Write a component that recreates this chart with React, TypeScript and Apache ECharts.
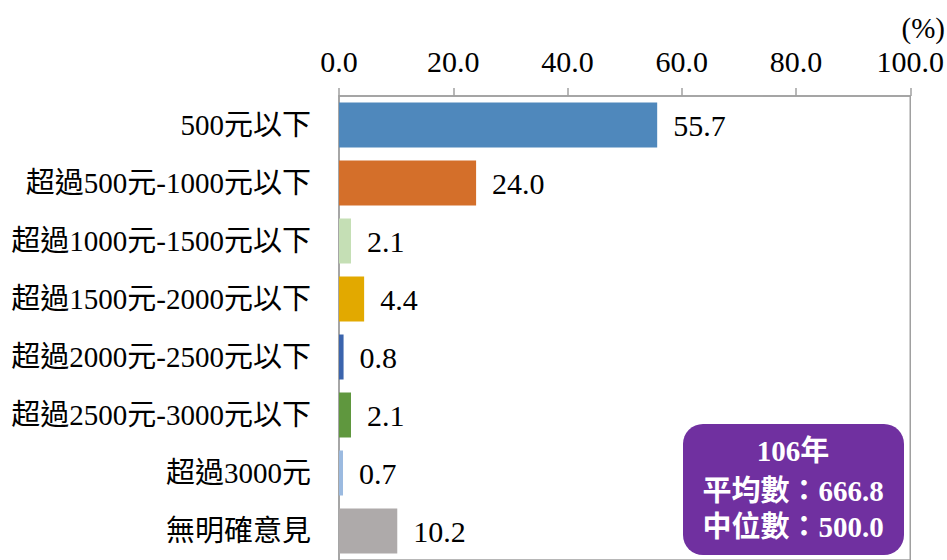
import React, { useEffect, useRef } from "react";
import * as echarts from "echarts";

const categories = [
  "500元以下",
  "超過500元-1000元以下",
  "超過1000元-1500元以下",
  "超過1500元-2000元以下",
  "超過2000元-2500元以下",
  "超過2500元-3000元以下",
  "超過3000元",
  "無明確意見",
];
const values = [55.7, 24.0, 2.1, 4.4, 0.8, 2.1, 0.7, 10.2];
const barColors = [
  "#4F88BC",
  "#D46F2A",
  "#C5DFB5",
  "#E2A900",
  "#3B64AD",
  "#5F973E",
  "#9BBAE0",
  "#AEAAAA",
];
const xTicks = [0, 20, 40, 60, 80, 100];
const unitLabel = "(%)";
const boxLines = ["106年", "平均數：666.8", "中位數：500.0"];

const FONT = "'Liberation Serif', 'Noto Sans CJK TC', serif";

export default function App() {
  const ref = useRef<HTMLDivElement>(null);
  useEffect(() => {
    if (!ref.current) return;
    const chart = echarts.init(ref.current, null, { renderer: "svg" });
    chart.setOption({
      animation: false,
      backgroundColor: "#ffffff",
      textStyle: { fontFamily: FONT },
      grid: {
        left: 339,
        right: 34,
        top: 96,
        height: 466,
        show: true,
        borderColor: "#a0a0a0",
        borderWidth: 1.5,
        containLabel: false,
      },
      xAxis: {
        type: "value",
        position: "top",
        min: xTicks[0],
        max: xTicks[xTicks.length - 1],
        interval: 20,
        axisLine: { show: true, lineStyle: { color: "#a0a0a0", width: 1.5 } },
        axisTick: { show: true, length: 8, lineStyle: { color: "#a0a0a0", width: 1.5 } },
        splitLine: { show: false },
        axisLabel: {
          margin: 20,
          fontSize: 30,
          color: "#000",
          fontFamily: FONT,
          formatter: (v: number) => v.toFixed(1),
        },
      },
      yAxis: {
        type: "category",
        inverse: true,
        data: categories,
        axisLine: { show: true, lineStyle: { color: "#a0a0a0", width: 1.5 } },
        axisTick: { show: false },
        axisLabel: {
          margin: 28,
          fontSize: 29,
          color: "#000",
          fontFamily: FONT,
        },
      },
      series: [
        {
          type: "bar",
          barWidth: 45,
          data: values.map((v, i) => ({ value: v, itemStyle: { color: barColors[i] } })),
          label: {
            show: true,
            position: "right",
            distance: 16,
            fontSize: 30,
            color: "#000",
            fontFamily: FONT,
            formatter: (p: any) => Number(p.value).toFixed(1),
          },
        },
      ],
      graphic: [
        {
          type: "text",
          right: 2,
          top: 13,
          style: { text: unitLabel, fontSize: 29, fill: "#000", fontFamily: FONT },
        },
        {
          type: "rect",
          x: 683,
          y: 424,
          shape: { width: 221, height: 131, r: 20 },
          style: { fill: "#7030A0" },
          z: 10,
        },
        ...boxLines.map((t, i) => ({
          type: "text",
          x: 793,
          y: [451, 491, 527][i],
          z: 11,
          style: {
            text: t,
            fontSize: 29,
            fontWeight: "bold",
            fill: "#fff",
            fontFamily: FONT,
            align: "center",
            verticalAlign: "middle",
          },
        })),
      ],
    });
    return () => chart.dispose();
  }, []);
  return (
    <div
      ref={ref}
      style={{ position: "fixed", left: 0, top: 0, width: 947, height: 560 }}
    />
  );
}
